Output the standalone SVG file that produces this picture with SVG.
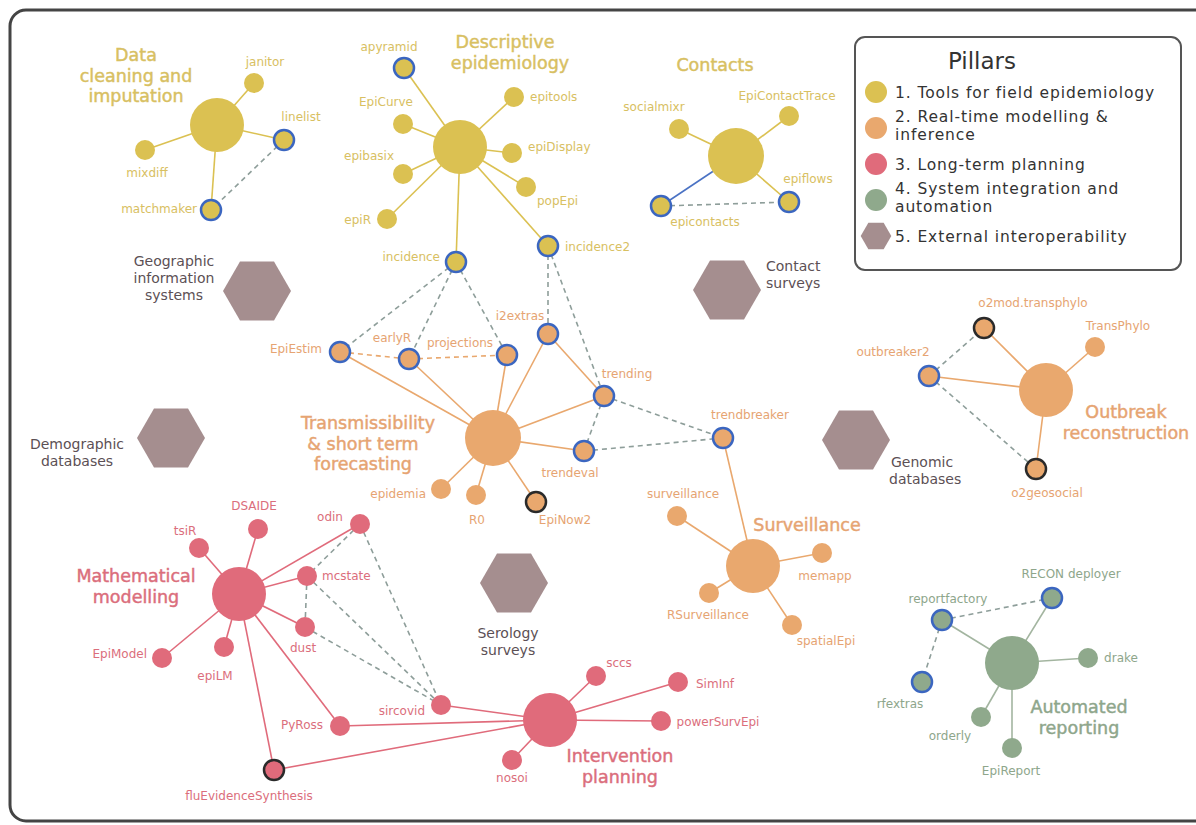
<svg xmlns="http://www.w3.org/2000/svg" xmlns:xlink="http://www.w3.org/1999/xlink" width="1196" height="825" viewBox="0 0 1196 825">
<defs>
<style>
text{font-family:"DejaVu Sans","Liberation Sans",sans-serif;font-size:12px}
.ty{fill:#D8C062}.to{fill:#E6A472}.tp{fill:#DB6E7C}.tg{fill:#8EA68B}.th{fill:#5C5055;font-size:14px}
.title{font-size:17.5px;stroke-width:0.45}
.ty.title{stroke:#D8C062}.to.title{stroke:#E6A472}.tp.title{stroke:#DB6E7C}.tg.title{stroke:#8EA68B}
.ny{fill:#DBC152}.no{fill:#E9A86E}.np{fill:#E06B7B}.ng{fill:#8FA98C}
.bl{stroke:#3B66C0;stroke-width:2.5}.bk{stroke:#2A2A2A;stroke-width:2.5}
.ey{stroke:#DBC152;stroke-width:1.6}.eo{stroke:#E9A86E;stroke-width:1.6}.ep{stroke:#E06B7B;stroke-width:1.6}.eg{stroke:#A3B5A0;stroke-width:1.6}
.eb{stroke:#4A72C4;stroke-width:1.6}
.ed{stroke:#8E9E9A;stroke-width:1.6;stroke-dasharray:5 4}
.edo{stroke:#E9A86E;stroke-width:1.6;stroke-dasharray:5 4}
.hex{fill:#A58E8F}
.lg{font-size:15.5px;fill:#333;letter-spacing:0.9px}
</style>
<path id="hx" d="M-34,0 L-17,-29.4 L17,-29.4 L34,0 L17,29.4 L-17,29.4 Z"/>
</defs>
<rect x="0" y="0" width="1196" height="825" fill="#fff"/>
<rect x="10" y="10" width="1210" height="811" rx="16" fill="#fff" stroke="#444" stroke-width="3"/>

<g id="connectors" fill="none">
<!-- Data cleaning -->
<line class="ey" x1="217" y1="125" x2="254" y2="83"/>
<line class="ey" x1="217" y1="125" x2="284" y2="140"/>
<line class="ey" x1="217" y1="125" x2="145" y2="150"/>
<line class="ey" x1="217" y1="125" x2="211" y2="210"/>
<line class="ed" x1="284" y1="140" x2="211" y2="210"/>
<!-- Descriptive -->
<line class="ey" x1="460" y1="147" x2="404" y2="68"/>
<line class="ey" x1="460" y1="147" x2="403" y2="124"/>
<line class="ey" x1="460" y1="147" x2="403" y2="174"/>
<line class="ey" x1="460" y1="147" x2="387" y2="219"/>
<line class="ey" x1="460" y1="147" x2="514" y2="97"/>
<line class="ey" x1="460" y1="147" x2="512" y2="153"/>
<line class="ey" x1="460" y1="147" x2="526" y2="187"/>
<line class="ey" x1="460" y1="147" x2="456" y2="262"/>
<line class="ey" x1="460" y1="147" x2="548" y2="246"/>
<!-- Contacts -->
<line class="ey" x1="736" y1="156" x2="679" y2="129"/>
<line class="ey" x1="736" y1="156" x2="789" y2="116"/>
<line class="ey" x1="736" y1="156" x2="789" y2="202"/>
<line class="eb" x1="736" y1="156" x2="661" y2="206"/>
<line class="ed" x1="661" y1="206" x2="789" y2="202"/>
<!-- Transmissibility -->
<line class="eo" x1="493" y1="438" x2="340" y2="352"/>
<line class="eo" x1="493" y1="438" x2="409" y2="359"/>
<line class="eo" x1="493" y1="438" x2="507" y2="355"/>
<line class="eo" x1="493" y1="438" x2="548" y2="334"/>
<line class="eo" x1="493" y1="438" x2="604" y2="396"/>
<line class="eo" x1="493" y1="438" x2="584" y2="451"/>
<line class="eo" x1="493" y1="438" x2="441" y2="489"/>
<line class="eo" x1="493" y1="438" x2="476" y2="495"/>
<line class="eo" x1="493" y1="438" x2="536" y2="502"/>
<line class="eo" x1="548" y1="334" x2="604" y2="396"/>
<line class="edo" x1="340" y1="352" x2="409" y2="359"/>
<line class="edo" x1="409" y1="359" x2="507" y2="355"/>
<line class="ed" x1="456" y1="262" x2="340" y2="352"/>
<line class="ed" x1="456" y1="262" x2="409" y2="359"/>
<line class="ed" x1="456" y1="262" x2="507" y2="355"/>
<line class="ed" x1="548" y1="246" x2="548" y2="334"/>
<line class="ed" x1="548" y1="246" x2="604" y2="396"/>
<line class="ed" x1="604" y1="396" x2="584" y2="451"/>
<line class="ed" x1="604" y1="396" x2="723" y2="438"/>
<line class="ed" x1="584" y1="451" x2="723" y2="438"/>
<!-- Surveillance -->
<line class="eo" x1="753" y1="566" x2="723" y2="438"/>
<line class="eo" x1="753" y1="566" x2="677" y2="516"/>
<line class="eo" x1="753" y1="566" x2="822" y2="553"/>
<line class="eo" x1="753" y1="566" x2="709" y2="593"/>
<line class="eo" x1="753" y1="566" x2="792" y2="625"/>
<!-- Outbreak -->
<line class="eo" x1="1046" y1="390" x2="984" y2="328"/>
<line class="eo" x1="1046" y1="390" x2="1095" y2="347"/>
<line class="eo" x1="1046" y1="390" x2="929" y2="376"/>
<line class="eo" x1="1046" y1="390" x2="1036" y2="469"/>
<line class="ed" x1="929" y1="376" x2="984" y2="328"/>
<line class="ed" x1="929" y1="376" x2="1036" y2="469"/>
<!-- Mathematical modelling -->
<line class="ep" x1="239" y1="594" x2="199" y2="548"/>
<line class="ep" x1="239" y1="594" x2="258" y2="529"/>
<line class="ep" x1="239" y1="594" x2="360" y2="524"/>
<line class="ep" x1="239" y1="594" x2="307" y2="576"/>
<line class="ep" x1="239" y1="594" x2="305" y2="627"/>
<line class="ep" x1="239" y1="594" x2="162" y2="658"/>
<line class="ep" x1="239" y1="594" x2="224" y2="647"/>
<line class="ep" x1="239" y1="594" x2="340" y2="726"/>
<line class="ep" x1="239" y1="594" x2="274" y2="770"/>
<line class="ed" x1="360" y1="524" x2="307" y2="576"/>
<line class="ed" x1="360" y1="524" x2="441" y2="705"/>
<line class="ed" x1="307" y1="576" x2="305" y2="627"/>
<line class="ed" x1="307" y1="576" x2="441" y2="705"/>
<line class="ed" x1="305" y1="627" x2="441" y2="705"/>
<!-- Intervention -->
<line class="ep" x1="550" y1="720" x2="441" y2="705"/>
<line class="ep" x1="550" y1="720" x2="340" y2="726"/>
<line class="ep" x1="550" y1="720" x2="274" y2="770"/>
<line class="ep" x1="550" y1="720" x2="596" y2="676"/>
<line class="ep" x1="550" y1="720" x2="678" y2="682"/>
<line class="ep" x1="550" y1="720" x2="661" y2="721"/>
<line class="ep" x1="550" y1="720" x2="512" y2="760"/>
<!-- Automated reporting -->
<line class="eg" x1="1012" y1="663" x2="1052" y2="598"/>
<line class="eg" x1="1012" y1="663" x2="942" y2="620"/>
<line class="eg" x1="1012" y1="663" x2="1088" y2="658"/>
<line class="eg" x1="1012" y1="663" x2="981" y2="717"/>
<line class="eg" x1="1012" y1="663" x2="1012" y2="748"/>
<line class="ed" x1="942" y1="620" x2="1052" y2="598"/>
<line class="ed" x1="942" y1="620" x2="922" y2="682"/>
</g>

<!-- External hexagons -->
<g id="hex-gis"><use xlink:href="#hx" class="hex" transform="translate(257,291)"/>
<text class="th" text-anchor="middle" x="174" y="266">Geographic</text><text class="th" text-anchor="middle" x="174" y="283">information</text><text class="th" text-anchor="middle" x="174" y="300">systems</text></g>
<g id="hex-contact"><use xlink:href="#hx" class="hex" transform="translate(727,290)"/>
<text class="th" x="766" y="271">Contact</text><text class="th" x="766" y="288">surveys</text></g>
<g id="hex-demo"><use xlink:href="#hx" class="hex" transform="translate(171,438)"/>
<text class="th" text-anchor="middle" x="77" y="449">Demographic</text><text class="th" text-anchor="middle" x="77" y="466">databases</text></g>
<g id="hex-genomic"><use xlink:href="#hx" class="hex" transform="translate(856,440)"/>
<text class="th" x="891" y="467">Genomic</text><text class="th" x="889" y="484">databases</text></g>
<g id="hex-serology"><use xlink:href="#hx" class="hex" transform="translate(514,583)"/>
<text class="th" text-anchor="middle" x="508" y="638">Serology</text><text class="th" text-anchor="middle" x="508" y="655">surveys</text></g>

<!-- Data cleaning -->
<g id="data-cleaning">
<circle class="ny" cx="217" cy="125" r="27"/>
<text class="ty title" text-anchor="middle" x="136" y="61">Data</text>
<text class="ty title" text-anchor="middle" x="136" y="81.5">cleaning and</text>
<text class="ty title" text-anchor="middle" x="136" y="102">imputation</text>
</g>
<g id="janitor"><circle class="ny" cx="254" cy="83" r="10"/><text class="ty" text-anchor="middle" x="265" y="66">janitor</text></g>
<g id="linelist"><circle class="ny bl" cx="284" cy="140" r="10"/><text class="ty" text-anchor="middle" x="301" y="121">linelist</text></g>
<g id="mixdiff"><circle class="ny" cx="145" cy="150" r="10"/><text class="ty" text-anchor="middle" x="147" y="177">mixdiff</text></g>
<g id="matchmaker"><circle class="ny bl" cx="211" cy="210" r="10"/><text class="ty" text-anchor="end" x="197" y="213">matchmaker</text></g>

<!-- Descriptive -->
<g id="descriptive-epidemiology">
<circle class="ny" cx="460" cy="147" r="27"/>
<text class="ty title" text-anchor="middle" x="505" y="48">Descriptive</text>
<text class="ty title" text-anchor="middle" x="510" y="68.5">epidemiology</text>
</g>
<g id="apyramid"><circle class="ny bl" cx="404" cy="68" r="10"/><text class="ty" text-anchor="middle" x="389" y="51">apyramid</text></g>
<g id="EpiCurve"><circle class="ny" cx="403" cy="124" r="10"/><text class="ty" text-anchor="middle" x="386" y="106">EpiCurve</text></g>
<g id="epibasix"><circle class="ny" cx="403" cy="174" r="10"/><text class="ty" text-anchor="middle" x="369" y="160">epibasix</text></g>
<g id="epiR"><circle class="ny" cx="387" cy="219" r="10"/><text class="ty" text-anchor="end" x="371" y="224">epiR</text></g>
<g id="epitools"><circle class="ny" cx="514" cy="97" r="10"/><text class="ty" x="530" y="101">epitools</text></g>
<g id="epiDisplay"><circle class="ny" cx="512" cy="153" r="10"/><text class="ty" x="528" y="151">epiDisplay</text></g>
<g id="popEpi"><circle class="ny" cx="526" cy="187" r="10"/><text class="ty" x="537" y="205">popEpi</text></g>
<g id="incidence"><circle class="ny bl" cx="456" cy="262" r="10"/><text class="ty" text-anchor="end" x="440" y="261">incidence</text></g>
<g id="incidence2"><circle class="ny bl" cx="548" cy="246" r="10"/><text class="ty" x="565" y="251">incidence2</text></g>

<!-- Contacts -->
<g id="contacts">
<circle class="ny" cx="736" cy="156" r="28"/>
<text class="ty title" text-anchor="middle" x="715" y="71">Contacts</text>
</g>
<g id="socialmixr"><circle class="ny" cx="679" cy="129" r="10"/><text class="ty" text-anchor="middle" x="654" y="111">socialmixr</text></g>
<g id="EpiContactTrace"><circle class="ny" cx="789" cy="116" r="10"/><text class="ty" text-anchor="middle" x="787" y="100">EpiContactTrace</text></g>
<g id="epiflows"><circle class="ny bl" cx="789" cy="202" r="10"/><text class="ty" text-anchor="middle" x="808" y="183">epiflows</text></g>
<g id="epicontacts"><circle class="ny bl" cx="661" cy="206" r="10"/><text class="ty" text-anchor="middle" x="705" y="226">epicontacts</text></g>

<!-- Transmissibility -->
<g id="transmissibility">
<circle class="no" cx="493" cy="438" r="28"/>
<text class="to title" text-anchor="middle" x="368" y="429">Transmissibility</text>
<text class="to title" text-anchor="middle" x="363" y="449.5">&amp; short term</text>
<text class="to title" text-anchor="middle" x="363" y="470">forecasting</text>
</g>
<g id="EpiEstim"><circle class="no bl" cx="340" cy="352" r="10"/><text class="to" text-anchor="end" x="322" y="353">EpiEstim</text></g>
<g id="earlyR"><circle class="no bl" cx="409" cy="359" r="10"/><text class="to" text-anchor="middle" x="392" y="342">earlyR</text></g>
<g id="projections"><circle class="no bl" cx="507" cy="355" r="10"/><text class="to" text-anchor="middle" x="460" y="347">projections</text></g>
<g id="i2extras"><circle class="no bl" cx="548" cy="334" r="10"/><text class="to" text-anchor="middle" x="520" y="320">i2extras</text></g>
<g id="trending"><circle class="no bl" cx="604" cy="396" r="10"/><text class="to" text-anchor="middle" x="627" y="378">trending</text></g>
<g id="trendeval"><circle class="no bl" cx="584" cy="451" r="10"/><text class="to" text-anchor="middle" x="570" y="477">trendeval</text></g>
<g id="trendbreaker"><circle class="no bl" cx="723" cy="438" r="10"/><text class="to" text-anchor="middle" x="750" y="419">trendbreaker</text></g>
<g id="epidemia"><circle class="no" cx="441" cy="489" r="10"/><text class="to" text-anchor="end" x="426" y="498">epidemia</text></g>
<g id="R0"><circle class="no" cx="476" cy="495" r="10"/><text class="to" text-anchor="middle" x="477" y="524">R0</text></g>
<g id="EpiNow2"><circle class="no bk" cx="536" cy="502" r="10"/><text class="to" text-anchor="middle" x="565" y="524">EpiNow2</text></g>

<!-- Surveillance -->
<g id="surveillance-hub">
<circle class="no" cx="753" cy="566" r="27"/>
<text class="to title" text-anchor="middle" x="807" y="531">Surveillance</text>
</g>
<g id="surveillance"><circle class="no" cx="677" cy="516" r="10"/><text class="to" text-anchor="middle" x="683" y="498">surveillance</text></g>
<g id="memapp"><circle class="no" cx="822" cy="553" r="10"/><text class="to" text-anchor="middle" x="825" y="580">memapp</text></g>
<g id="RSurveillance"><circle class="no" cx="709" cy="593" r="10"/><text class="to" text-anchor="middle" x="708" y="619">RSurveillance</text></g>
<g id="spatialEpi"><circle class="no" cx="792" cy="625" r="10"/><text class="to" text-anchor="middle" x="826" y="645">spatialEpi</text></g>

<!-- Outbreak reconstruction -->
<g id="outbreak-reconstruction">
<circle class="no" cx="1046" cy="390" r="27"/>
<text class="to title" text-anchor="middle" x="1126" y="418">Outbreak</text>
<text class="to title" text-anchor="middle" x="1126" y="439">reconstruction</text>
</g>
<g id="o2mod.transphylo"><circle class="no bk" cx="984" cy="328" r="10"/><text class="to" text-anchor="middle" x="1033" y="307">o2mod.transphylo</text></g>
<g id="TransPhylo"><circle class="no" cx="1095" cy="347" r="10"/><text class="to" text-anchor="middle" x="1118" y="330">TransPhylo</text></g>
<g id="outbreaker2"><circle class="no bl" cx="929" cy="376" r="10"/><text class="to" text-anchor="middle" x="893" y="356">outbreaker2</text></g>
<g id="o2geosocial"><circle class="no bk" cx="1036" cy="469" r="10"/><text class="to" text-anchor="middle" x="1047" y="497">o2geosocial</text></g>

<!-- Mathematical modelling -->
<g id="mathematical-modelling">
<circle class="np" cx="239" cy="594" r="27"/>
<text class="tp title" text-anchor="middle" x="136" y="582">Mathematical</text>
<text class="tp title" text-anchor="middle" x="136" y="603">modelling</text>
</g>
<g id="tsiR"><circle class="np" cx="199" cy="548" r="10"/><text class="tp" text-anchor="middle" x="185" y="535">tsiR</text></g>
<g id="DSAIDE"><circle class="np" cx="258" cy="529" r="10"/><text class="tp" text-anchor="middle" x="254" y="510">DSAIDE</text></g>
<g id="odin"><circle class="np" cx="360" cy="524" r="10"/><text class="tp" text-anchor="middle" x="330" y="521">odin</text></g>
<g id="mcstate"><circle class="np" cx="307" cy="576" r="10"/><text class="tp" x="322" y="580">mcstate</text></g>
<g id="dust"><circle class="np" cx="305" cy="627" r="10"/><text class="tp" text-anchor="middle" x="303" y="652">dust</text></g>
<g id="EpiModel"><circle class="np" cx="162" cy="658" r="10"/><text class="tp" text-anchor="end" x="147" y="658">EpiModel</text></g>
<g id="epiLM"><circle class="np" cx="224" cy="647" r="10"/><text class="tp" text-anchor="middle" x="215" y="680">epiLM</text></g>
<g id="PyRoss"><circle class="np" cx="340" cy="726" r="10"/><text class="tp" text-anchor="end" x="323" y="729">PyRoss</text></g>
<g id="fluEvidenceSynthesis"><circle class="np bk" cx="274" cy="770" r="10"/><text class="tp" text-anchor="middle" x="249" y="800">fluEvidenceSynthesis</text></g>
<g id="sircovid"><circle class="np" cx="441" cy="705" r="10"/><text class="tp" text-anchor="end" x="425" y="715">sircovid</text></g>

<!-- Intervention planning -->
<g id="intervention-planning">
<circle class="np" cx="550" cy="720" r="27"/>
<text class="tp title" text-anchor="middle" x="620" y="762">Intervention</text>
<text class="tp title" text-anchor="middle" x="620" y="783">planning</text>
</g>
<g id="sccs"><circle class="np" cx="596" cy="676" r="10"/><text class="tp" text-anchor="middle" x="619" y="667">sccs</text></g>
<g id="SimInf"><circle class="np" cx="678" cy="682" r="10"/><text class="tp" text-anchor="middle" x="715" y="688">SimInf</text></g>
<g id="powerSurvEpi"><circle class="np" cx="661" cy="721" r="10"/><text class="tp" text-anchor="middle" x="718" y="726">powerSurvEpi</text></g>
<g id="nosoi"><circle class="np" cx="512" cy="760" r="10"/><text class="tp" text-anchor="middle" x="512" y="782">nosoi</text></g>

<!-- Automated reporting -->
<g id="automated-reporting">
<circle class="ng" cx="1012" cy="663" r="27"/>
<text class="tg title" text-anchor="middle" x="1079" y="713">Automated</text>
<text class="tg title" text-anchor="middle" x="1079" y="734">reporting</text>
</g>
<g id="RECON-deployer"><circle class="ng bl" cx="1052" cy="598" r="10"/><text class="tg" text-anchor="middle" x="1071" y="578">RECON deployer</text></g>
<g id="reportfactory"><circle class="ng bl" cx="942" cy="620" r="10"/><text class="tg" text-anchor="middle" x="948" y="603">reportfactory</text></g>
<g id="drake"><circle class="ng" cx="1088" cy="658" r="10"/><text class="tg" text-anchor="middle" x="1121" y="662">drake</text></g>
<g id="rfextras"><circle class="ng bl" cx="922" cy="682" r="10"/><text class="tg" text-anchor="middle" x="900" y="708">rfextras</text></g>
<g id="orderly"><circle class="ng" cx="981" cy="717" r="10"/><text class="tg" text-anchor="middle" x="950" y="740">orderly</text></g>
<g id="EpiReport"><circle class="ng" cx="1012" cy="748" r="10"/><text class="tg" text-anchor="middle" x="1011" y="775">EpiReport</text></g>

<!-- Legend -->
<g id="legend">
<rect x="855" y="37" width="326" height="233" rx="10" fill="#fff" stroke="#555" stroke-width="2"/>
<text x="982" y="69" text-anchor="middle" style="font-size:23px;fill:#333">Pillars</text>
<circle class="ny" cx="876" cy="92" r="11"/>
<text class="lg" x="895" y="98">1. Tools for field epidemiology</text>
<circle class="no" cx="876" cy="128" r="11"/>
<text class="lg" x="895" y="122">2. Real-time modelling &amp;</text>
<text class="lg" x="895" y="140">inference</text>
<circle class="np" cx="876" cy="164" r="11"/>
<text class="lg" x="895" y="170">3. Long-term planning</text>
<circle class="ng" cx="876" cy="200" r="11"/>
<text class="lg" x="895" y="194">4. System integration and</text>
<text class="lg" x="895" y="212">automation</text>
<use xlink:href="#hx" class="hex" transform="translate(876,236) scale(0.45)"/>
<text class="lg" x="895" y="242">5. External interoperability</text>
</g>
</svg>
